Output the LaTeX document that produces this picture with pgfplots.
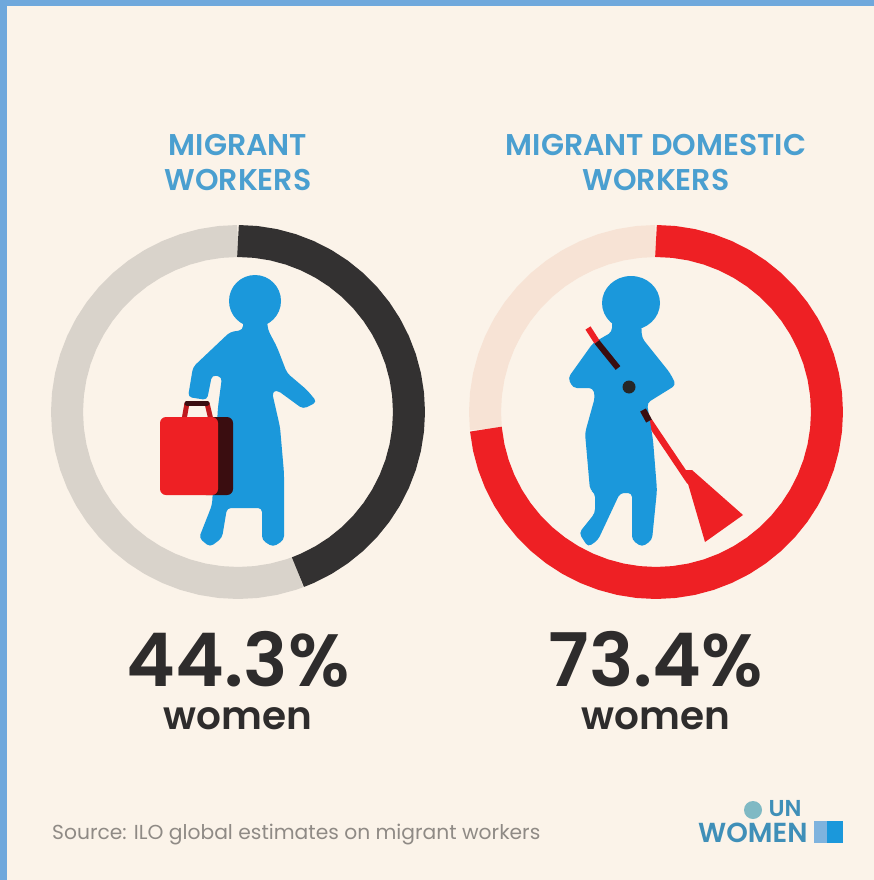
\documentclass[border=0pt]{standalone}
\usepackage{pgfplots}
\usepackage{fontspec}
\pgfplotsset{compat=1.18}
\usepgfplotslibrary{polar}
\setmainfont{Poppins}[BoldFont={Poppins SemiBold}]
\definecolor{paper}{HTML}{FBF3E9}
\definecolor{frameblue}{HTML}{6FA8DC}
\definecolor{figblue}{HTML}{1B98DB}
\definecolor{headblue}{HTML}{4A9FD0}
\definecolor{logoblue}{HTML}{3F8FB8}
\definecolor{logoteal}{HTML}{7FB9C4}
\definecolor{logopale}{HTML}{7FB3DE}
\definecolor{ringdark}{HTML}{333131}
\definecolor{ringgrey}{HTML}{D9D3CB}
\definecolor{ringred}{HTML}{EE2024}
\definecolor{ringpeach}{HTML}{F7E3D5}
\definecolor{bagback}{HTML}{3A0D10}
\definecolor{numink}{HTML}{2E2C2C}
\definecolor{srcgrey}{HTML}{8F8A85}
\pgfplotsset{
  ring/.style={
    at={(#1pt,468pt)}, anchor=center,
    width=374pt, height=374pt, scale only axis,
    xmin=0, xmax=360, ymin=0, ymax=187,
    hide axis, clip=false
  },
  arcpart/.style={no markers, line width=32pt, line cap=butt, line join=round, color=#1}
}
\newcommand{\bigtext}[3]{\node[font=\fontsize{74}{74}\selectfont\bfseries, text=numink, inner sep=0pt, anchor=center] at (#1,#2) {#3};}
\begin{document}
\begin{tikzpicture}[x=1pt,y=1pt]
\useasboundingbox (0,0) rectangle (874,880);
\fill[paper] (0,0) rectangle (874,880);
\fill[frameblue] (0,0) rectangle (7,880);
\fill[frameblue] (0,874) rectangle (874,880);

% share of women among migrant workers: 44.3 % = 159.48 degrees clockwise from the top
\begin{polaraxis}[ring=238]
\addplot[arcpart=ringgrey] coordinates {
(-69.48,171)(-72,171)(-78,171)(-84,171)(-90,171)(-96,171)(-102,171)(-108,171)(-114,171)
(-120,171)(-126,171)(-132,171)(-138,171)(-144,171)(-150,171)(-156,171)(-162,171)(-168,171)
(-174,171)(-180,171)(-186,171)(-192,171)(-198,171)(-204,171)(-210,171)(-216,171)(-222,171)
(-228,171)(-234,171)(-240,171)(-246,171)(-252,171)(-258,171)(-264,171)(-270,171)};
\addplot[arcpart=ringdark] coordinates {
(90,171)(84,171)(78,171)(72,171)(66,171)(60,171)(54,171)(48,171)(42,171)(36,171)(30,171)
(24,171)(18,171)(12,171)(6,171)(0,171)(-6,171)(-12,171)(-18,171)(-24,171)(-30,171)(-36,171)
(-42,171)(-48,171)(-54,171)(-60,171)(-66,171)(-69.48,171)};
\end{polaraxis}

% share of women among migrant domestic workers: 73.4 % = 264.24 degrees
\begin{polaraxis}[ring=656]
\addplot[arcpart=ringpeach] coordinates {
(-174.24,171)(-180,171)(-186,171)(-192,171)(-198,171)(-204,171)(-210,171)(-216,171)(-222,171)
(-228,171)(-234,171)(-240,171)(-246,171)(-252,171)(-258,171)(-264,171)(-270,171)};
\addplot[arcpart=ringred] coordinates {
(90,171)(84,171)(78,171)(72,171)(66,171)(60,171)(54,171)(48,171)(42,171)(36,171)(30,171)
(24,171)(18,171)(12,171)(6,171)(0,171)(-6,171)(-12,171)(-18,171)(-24,171)(-30,171)(-36,171)
(-42,171)(-48,171)(-54,171)(-60,171)(-66,171)(-72,171)(-78,171)(-84,171)(-90,171)(-96,171)
(-102,171)(-108,171)(-114,171)(-120,171)(-126,171)(-132,171)(-138,171)(-144,171)(-150,171)
(-156,171)(-162,171)(-168,171)(-174.24,171)};
\end{polaraxis}

% page-wide axis in pixel-like units for headings, figures and the footer
\begin{axis}[
  at={(0pt,0pt)}, anchor=south west,
  width=874pt, height=880pt, scale only axis,
  xmin=0, xmax=874, ymin=0, ymax=880, y dir=reverse,
  hide axis, clip=false]

% headings
\node[font=\fontsize{30}{30}\selectfont\bfseries, text=headblue, inner sep=0pt] at (238,145) {MIGRANT};
\node[font=\fontsize{30}{30}\selectfont\bfseries, text=headblue, inner sep=0pt] at (238,180) {WORKERS};
\node[font=\fontsize{30}{30}\selectfont\bfseries, text=headblue, inner sep=0pt] at (656,145) {MIGRANT DOMESTIC};
\node[font=\fontsize{30}{30}\selectfont\bfseries, text=headblue, inner sep=0pt] at (656,180) {WORKERS};

% traveller with suitcase
\fill[figblue] (axis cs:255,301) circle[radius=26pt];
\fill[figblue,rounded corners=4pt] (axis cs:243,320) -- (axis cs:267,320) -- (axis cs:268,330) -- (axis cs:277,347)
  -- (axis cs:287,373) -- (axis cs:307,390) -- (axis cs:317,402) -- (axis cs:303,409) -- (axis cs:277,390)
  -- (axis cs:272,392) -- (axis cs:280,427) -- (axis cs:284,473) -- (axis cs:284,540) -- (axis cs:273,547) -- (axis cs:262,540)
  -- (axis cs:262,508) -- (axis cs:227,508) -- (axis cs:222,538) -- (axis cs:210,547) -- (axis cs:199,538)
  -- (axis cs:212,505) -- (axis cs:218,407) -- (axis cs:222,377) -- (axis cs:212,375) -- (axis cs:207,400)
  -- (axis cs:188,397) -- (axis cs:193,367) -- (axis cs:230,332) -- (axis cs:243,330) -- cycle;
\draw[ringred!80!black,line width=5pt] (axis cs:184,420) -- (axis cs:187,403);
\draw[ringred!80!black,line width=5pt] (axis cs:207,403) -- (axis cs:211,420);
\draw[bagback,line width=5pt,line cap=round] (axis cs:187,403) -- (axis cs:207,403);
\fill[bagback,rounded corners=6pt] (axis cs:200,417) rectangle (axis cs:233,495);
\fill[ringred,rounded corners=6pt] (axis cs:160,417) rectangle (axis cs:218,495);

% domestic worker with broom
\fill[figblue] (axis cs:631,303) ellipse[x radius=29pt, y radius=27pt];
\draw[ringred,line width=6.5pt] (axis cs:649,421) -- (axis cs:690,482);
\fill[ringred] (axis cs:684,470) -- (axis cs:692,470) -- (axis cs:743,515) -- (axis cs:705,542) -- cycle;
\fill[figblue,rounded corners=4pt] (axis cs:612,320) -- (axis cs:641,320) -- (axis cs:642,338) -- (axis cs:670,373)
  -- (axis cs:676,385) -- (axis cs:647,403) -- (axis cs:653,440) -- (axis cs:657,490) -- (axis cs:652,540)
  -- (axis cs:642,547) -- (axis cs:632,540) -- (axis cs:632,493) -- (axis cs:620,493) -- (axis cs:598,540)
  -- (axis cs:588,547) -- (axis cs:579,533) -- (axis cs:595,513) -- (axis cs:595,493) -- (axis cs:590,490)
  -- (axis cs:585,433) -- (axis cs:595,397) -- (axis cs:593,388) -- (axis cs:573,388) -- (axis cs:568,378)
  -- (axis cs:593,343) -- (axis cs:612,332) -- cycle;
\draw[ringred,line width=6pt] (axis cs:588,328) -- (axis cs:597,342);
\draw[bagback,line width=6pt] (axis cs:597,342) -- (axis cs:618,368);
\draw[bagback,line width=6.5pt] (axis cs:643,410) -- (axis cs:649,421);
\fill[black!85] (axis cs:629,387) circle[radius=6.5pt];

% value captions
\bigtext{238}{659}{44.3\%}
\bigtext{656}{659}{73.4\%}
\node[font=\fontsize{39}{39}\selectfont\bfseries, text=numink, inner sep=0pt] at (238,719) {women};
\node[font=\fontsize{39}{39}\selectfont\bfseries, text=numink, inner sep=0pt] at (656,719) {women};

% footer
\node[font=\fontsize{20.25}{21}\selectfont, text=srcgrey, inner sep=0pt, anchor=west] at (52,835) {Source: ILO global estimates on migrant workers};
\fill[logoteal] (axis cs:753,810) circle[radius=9pt];
\node[font=\fontsize{23}{23}\selectfont\bfseries, text=logoblue, inner sep=0pt] at (785,809) {UN};
\node[font=\fontsize{27.5}{27.5}\selectfont\bfseries, text=logoblue, inner sep=0pt, anchor=west] at (698,833) {WOMEN};
\fill[logopale] (axis cs:814,821) rectangle (axis cs:827,843);
\fill[figblue] (axis cs:827,821) rectangle (axis cs:843,843);
\end{axis}
\end{tikzpicture}
\end{document}
